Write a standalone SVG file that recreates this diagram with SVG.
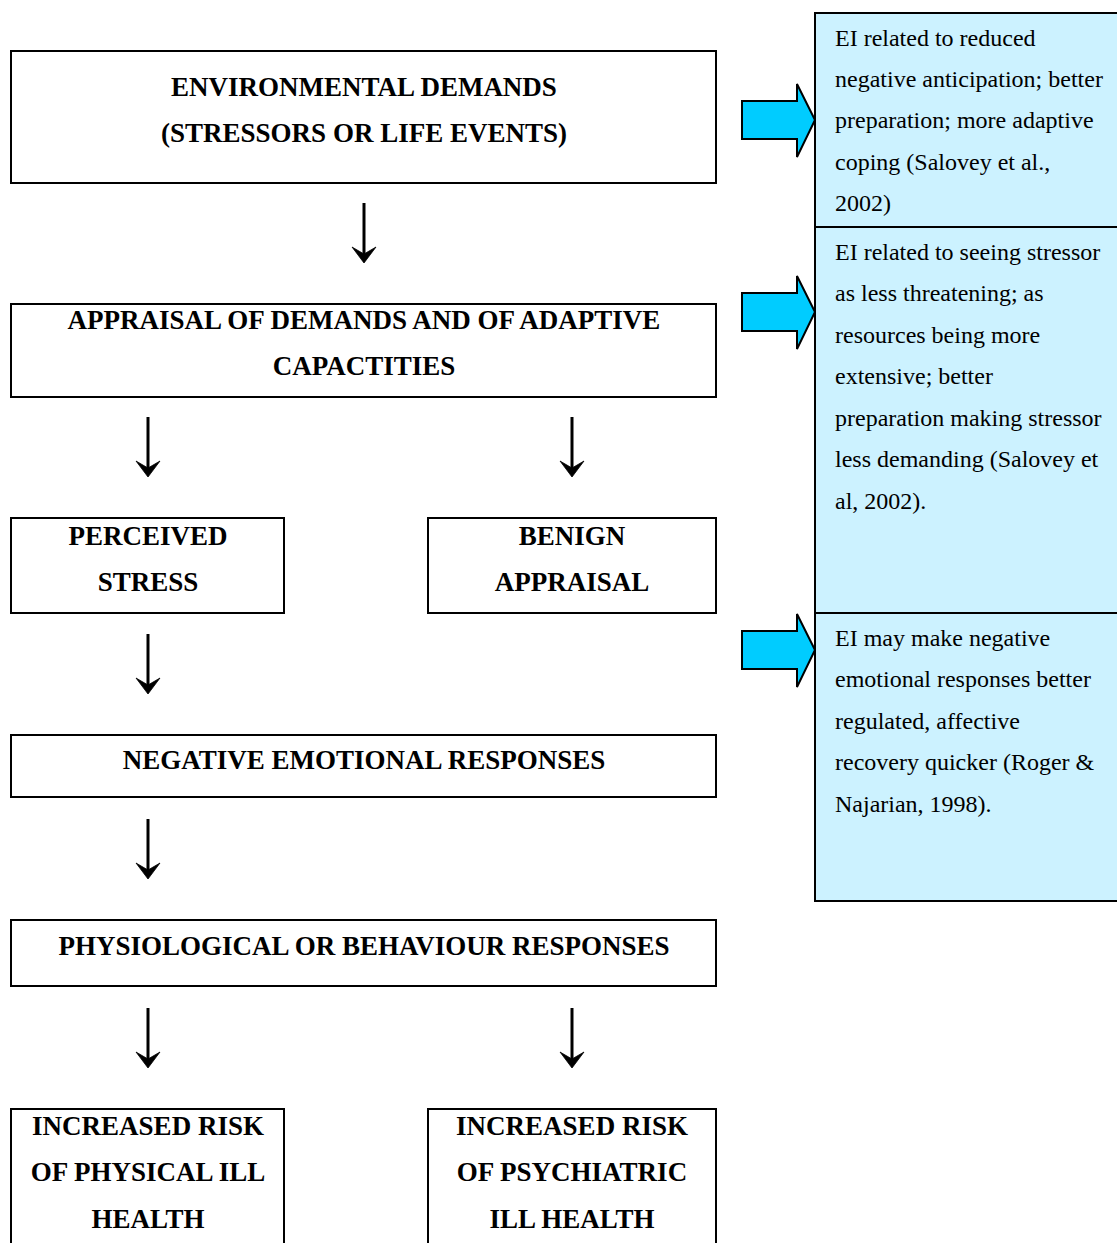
<svg xmlns="http://www.w3.org/2000/svg" width="1117" height="1243" viewBox="0 0 1117 1243">
<style>
.box{fill:#fff;stroke:#000;stroke-width:2}
.b{font-family:"Liberation Serif","Times New Roman",serif;font-weight:bold;font-size:27px;text-anchor:middle;fill:#000}
.n{font-family:"Liberation Serif","Times New Roman",serif;font-size:24px;fill:#000}
.side{fill:#CCF2FF;stroke:#000;stroke-width:2}
.blk{fill:#00CCFF;stroke:#000;stroke-width:2;stroke-linejoin:miter}
.ln{stroke:#000;stroke-width:3;fill:none}
.hd{fill:#000;stroke:#000;stroke-width:0.8;stroke-linejoin:round}
</style>
<rect width="1117" height="1243" fill="#fff"/>
<g id="side-panel">
<rect class="side" x="815" y="13" width="303" height="888"/>
<line x1="815" y1="227" x2="1117" y2="227" stroke="#000" stroke-width="2"/>
<line x1="815" y1="613" x2="1117" y2="613" stroke="#000" stroke-width="2"/>
</g>
<g id="note1">
<text class="n" x="835" y="46">EI related to reduced</text>
<text class="n" x="835" y="87">negative anticipation; better</text>
<text class="n" x="835" y="128">preparation; more adaptive</text>
<text class="n" x="835" y="170">coping (Salovey et al.,</text>
<text class="n" x="835" y="211">2002)</text>
</g>
<g id="note2">
<text class="n" x="835" y="260">EI related to seeing stressor</text>
<text class="n" x="835" y="301">as less threatening; as</text>
<text class="n" x="835" y="343">resources being more</text>
<text class="n" x="835" y="384">extensive; better</text>
<text class="n" x="835" y="426">preparation making stressor</text>
<text class="n" x="835" y="467">less demanding (Salovey et</text>
<text class="n" x="835" y="509">al, 2002).</text>
</g>
<g id="note3">
<text class="n" x="835" y="646">EI may make negative</text>
<text class="n" x="835" y="687">emotional responses better</text>
<text class="n" x="835" y="729">regulated, affective</text>
<text class="n" x="835" y="770">recovery quicker (Roger &amp;</text>
<text class="n" x="835" y="812">Najarian, 1998).</text>
</g>
<g id="env">
<rect class="box" x="11" y="51" width="705" height="132"/>
<text class="b" x="364" y="96">ENVIRONMENTAL DEMANDS</text>
<text class="b" x="364" y="142">(STRESSORS OR LIFE EVENTS)</text>
</g>
<g id="appraisal">
<rect class="box" x="11" y="304" width="705" height="93"/>
<text class="b" x="364" y="329">APPRAISAL OF DEMANDS AND OF ADAPTIVE</text>
<text class="b" x="364" y="375">CAPACTITIES</text>
</g>
<g id="perceived">
<rect class="box" x="11" y="518" width="273" height="95"/>
<text class="b" x="148" y="545">PERCEIVED</text>
<text class="b" x="148" y="591">STRESS</text>
</g>
<g id="benign">
<rect class="box" x="428" y="518" width="288" height="95"/>
<text class="b" x="572" y="545">BENIGN</text>
<text class="b" x="572" y="591">APPRAISAL</text>
</g>
<g id="negative">
<rect class="box" x="11" y="735" width="705" height="62"/>
<text class="b" x="364" y="769">NEGATIVE EMOTIONAL RESPONSES</text>
</g>
<g id="physio">
<rect class="box" x="11" y="920" width="705" height="66"/>
<text class="b" x="364" y="955">PHYSIOLOGICAL OR BEHAVIOUR RESPONSES</text>
</g>
<g id="physical">
<rect class="box" x="11" y="1109" width="273" height="140"/>
<text class="b" x="148" y="1135">INCREASED RISK</text>
<text class="b" x="148" y="1181">OF PHYSICAL ILL</text>
<text class="b" x="148" y="1228">HEALTH</text>
</g>
<g id="psychiatric">
<rect class="box" x="428" y="1109" width="288" height="140"/>
<text class="b" x="572" y="1135">INCREASED RISK</text>
<text class="b" x="572" y="1181">OF PSYCHIATRIC</text>
<text class="b" x="572" y="1228">ILL HEALTH</text>
</g>
<g id="connectors">
<g class="ln">
<path d="M364 203V255"/>
<path d="M148 417V469"/>
<path d="M572 417V469"/>
<path d="M148 634V686"/>
<path d="M148 819V871"/>
<path d="M148 1008V1060"/>
<path d="M572 1008V1060"/>
</g>
<g class="hd">
<path d="M352 247L364 263L376 247L364 254Z"/>
<path d="M136 461L148 477L160 461L148 468Z"/>
<path d="M560 461L572 477L584 461L572 468Z"/>
<path d="M136 678L148 694L160 678L148 685Z"/>
<path d="M136 863L148 879L160 863L148 870Z"/>
<path d="M136 1052L148 1068L160 1052L148 1059Z"/>
<path d="M560 1052L572 1068L584 1052L572 1059Z"/>
</g>
<path class="blk" d="M742 101H797V84L815 120L797 157V139H742Z"/>
<path class="blk" d="M742 293H797V276L815 312L797 349V331H742Z"/>
<path class="blk" d="M742 631H797V614L815 650L797 687V669H742Z"/>
</g>
</svg>
